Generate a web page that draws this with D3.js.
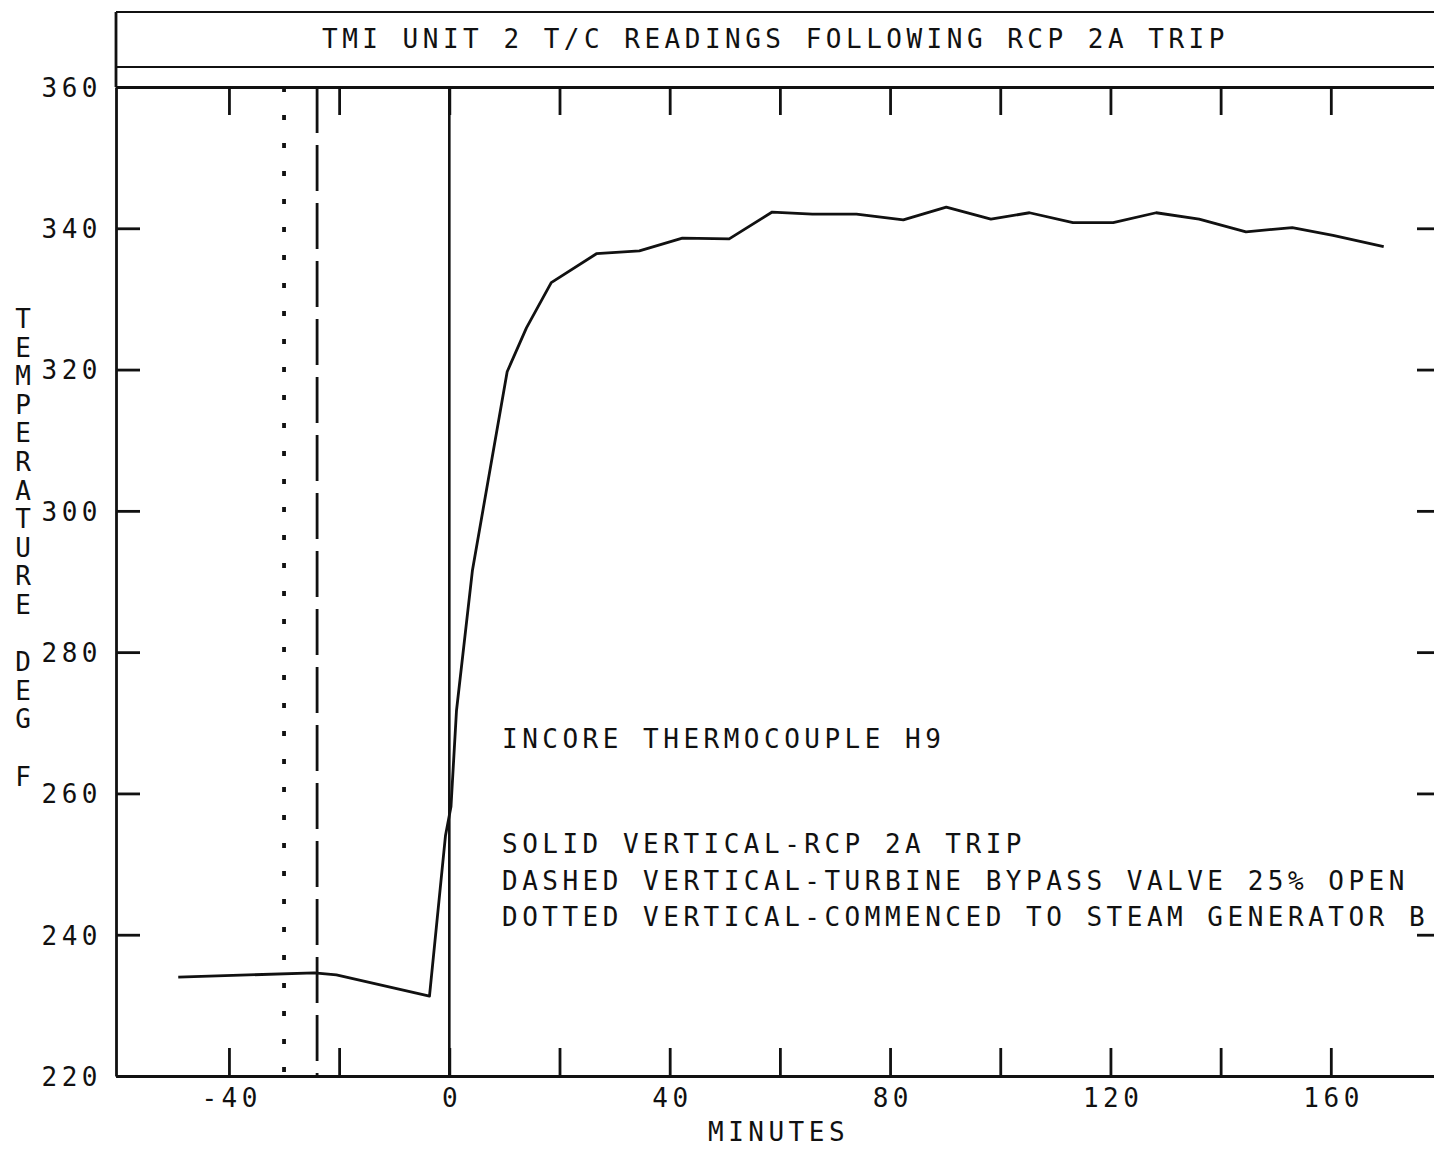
<!DOCTYPE html>
<html>
<head>
<meta charset="utf-8">
<script src="https://cdn.jsdelivr.net/npm/d3@7"></script>
<style>
  html, body { margin: 0; padding: 0; background: #fff; overflow: hidden; }
  svg { display: block; }
  text { font-family: "DejaVu Sans Mono", "Liberation Mono", monospace; fill: #111; }
</style>
</head>
<body>
<svg id="chart" width="1434" height="1150"></svg>
<script>
// ---- data ----
const minutes = [-49.2, -24.5, -20.5, -3.6, -0.7, 0.3, 1.3, 4.2, 10.5, 14.0, 18.5, 26.7, 34.5, 42.3, 50.8, 58.6, 65.9, 73.9, 82.4, 90.2, 98.3, 105.3, 113.2, 120.5, 128.3, 136.1, 144.6, 153.0, 160.4, 169.6];
const tempF   = [234.0, 234.6, 234.3, 231.3, 254.0, 258.1, 271.7, 291.6, 319.7, 325.9, 332.3, 336.4, 336.8, 338.6, 338.5, 342.3, 342.0, 342.0, 341.2, 343.0, 341.3, 342.2, 340.8, 340.8, 342.2, 341.3, 339.5, 340.1, 339.0, 337.4];
const eventMinutes = [0, -24, -30];          // solid, dashed, dotted verticals
const xDomain = [-60.5, 180];
const yDomain = [220, 360];
const xTickValues = [-40, -20, 0, 20, 40, 60, 80, 100, 120, 140, 160];
const xTickLabels = ["-40", "", "0", "", "40", "", "80", "", "120", "", "160"];
const yTickValues = [220, 240, 260, 280, 300, 320, 340, 360];
const yTickLabels = ["220", "240", "260", "280", "300", "320", "340", "360"];
const titleText = "TMI UNIT 2 T/C READINGS FOLLOWING RCP 2A TRIP";
const yAxisTitle = "TEMPERATURE DEG F";
const xAxisTitle = "MINUTES";
const noteLines = [
  "INCORE THERMOCOUPLE H9",
  "SOLID VERTICAL-RCP 2A TRIP",
  "DASHED VERTICAL-TURBINE BYPASS VALVE 25% OPEN",
  "DOTTED VERTICAL-COMMENCED TO STEAM GENERATOR B"
];

// ---- layout ----
const svg = d3.select("#chart");
const pLeft = 116, pRight = 1441, pTop = 87, pBottom = 1076;
const x = d3.scaleLinear().domain(xDomain).range([pLeft, pRight]);
const y = d3.scaleLinear().domain(yDomain).range([pBottom, pTop]);
const ink = "#111";
const FS = 26, LS = 4.5;

// title box
svg.append("line").attr("x1", pLeft).attr("x2", 1434).attr("y1", 12).attr("y2", 12)
  .attr("stroke", ink).attr("stroke-width", 2);
svg.append("line").attr("x1", pLeft).attr("x2", 1434).attr("y1", 67).attr("y2", 67)
  .attr("stroke", ink).attr("stroke-width", 2);
svg.append("line").attr("x1", pLeft).attr("x2", pLeft).attr("y1", 12).attr("y2", pTop)
  .attr("stroke", ink).attr("stroke-width", 2.8);
svg.append("text").attr("x", 322).attr("y", 48)
  .attr("font-size", FS).attr("letter-spacing", LS)
  .text(titleText);

// axes
const fmtX = d => xTickLabels[xTickValues.indexOf(d)];
const fmtY = d => yTickLabels[yTickValues.indexOf(d)];

function styleAxis(g) {
  g.select(".domain").attr("stroke", ink).attr("stroke-width", 2.8);
  g.selectAll(".tick line").attr("stroke", ink).attr("stroke-width", 2.8);
  g.selectAll(".tick text").attr("font-family", "DejaVu Sans Mono")
    .attr("font-size", FS).attr("letter-spacing", LS).attr("fill", ink);
}

svg.append("g").attr("transform", `translate(0,${pBottom})`)
  .call(d3.axisBottom(x).tickValues(xTickValues).tickFormat(fmtX).tickSize(-28).tickSizeOuter(0).tickPadding(13))
  .call(styleAxis)
  .call(g => g.selectAll(".tick text").attr("dx", LS / 2));

svg.append("g").attr("transform", `translate(0,${pTop})`)
  .call(d3.axisTop(x).tickValues(xTickValues).tickFormat("").tickSize(-28).tickSizeOuter(0))
  .call(styleAxis);

svg.append("g").attr("transform", `translate(${pLeft},0)`)
  .call(d3.axisLeft(y).tickValues(yTickValues).tickFormat(fmtY).tickSize(-24).tickSizeOuter(0).tickPadding(14))
  .call(styleAxis)
  .call(g => g.selectAll(".tick text").attr("dy", "0.36em"));

svg.append("g").attr("transform", `translate(${pRight},0)`)
  .call(d3.axisRight(y).tickValues(yTickValues).tickFormat("").tickSize(-24).tickSizeOuter(0))
  .call(styleAxis);

// vertical event lines
const eventDash = ["none", "46,12", "5,23"];
const eventWidth = [2.6, 2.8, 3.8];
svg.append("g").selectAll("line").data(eventMinutes).join("line")
  .attr("x1", d => x(d)).attr("x2", d => x(d))
  .attr("y1", pTop).attr("y2", pBottom)
  .attr("stroke", ink)
  .attr("stroke-width", (d, i) => eventWidth[i])
  .attr("stroke-dasharray", (d, i) => eventDash[i]);

// temperature curve
const pts = minutes.map((m, i) => [m, tempF[i]]);
svg.append("path").datum(pts)
  .attr("fill", "none").attr("stroke", ink).attr("stroke-width", 2.8)
  .attr("stroke-linejoin", "round")
  .attr("d", d3.line().x(d => x(d[0])).y(d => y(d[1])));

// y-axis title (stacked letters)
const yt = svg.append("text").attr("font-size", FS).attr("text-anchor", "middle");
yAxisTitle.split("").forEach((ch, i) => {
  yt.append("tspan").attr("x", 23).attr("y", 328 + i * 28.6).text(ch === " " ? "\u00a0" : ch);
});

// x-axis title
svg.append("text").attr("x", 708).attr("y", 1141)
  .attr("font-size", FS).attr("letter-spacing", LS).text(xAxisTitle);

// notes
const nt = svg.append("text").attr("font-size", FS).attr("letter-spacing", LS);
const noteY = [748, 853, 890, 926];
noteLines.forEach((s, i) => {
  nt.append("tspan").attr("x", 502).attr("y", noteY[i]).text(s);
});
</script>
</body>
</html>
